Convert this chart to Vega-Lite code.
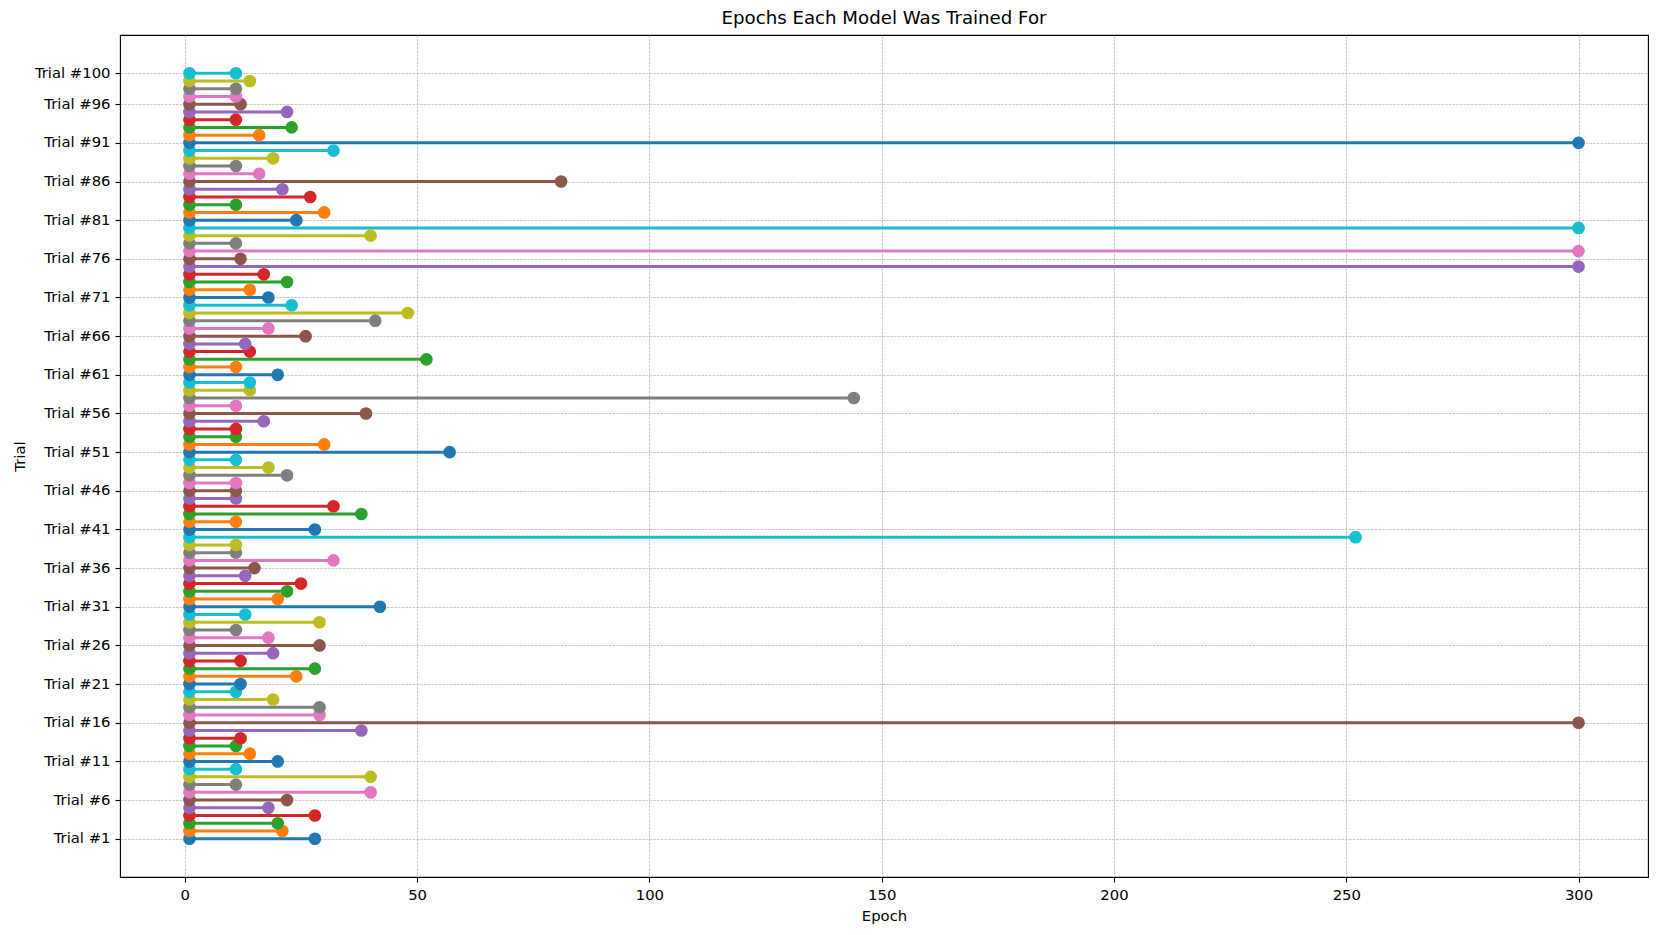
{
  "$schema": "https://vega.github.io/schema/vega-lite/v6.json",
  "autosize": {"type": "none"},
  "padding": {"left": 120, "top": 35, "right": 12, "bottom": 58},
  "width": 1528,
  "height": 842,
  "background": "white",
  "title": {"text": "Epochs Each Model Was Trained For", "font": "DejaVu Sans", "fontSize": 18.2, "fontWeight": "normal", "color": "black", "offset": 7, "anchor": "middle", "frame": "group"},
  "config": {
    "view": {"stroke": "black", "strokeWidth": 1.1},
    "axis": {
      "labelFont": "DejaVu Sans", "labelFontSize": 14.8, "labelColor": "black",
      "titleFont": "DejaVu Sans", "titleFontSize": 14.8, "titleFontWeight": "normal", "titleColor": "black",
      "tickColor": "black", "tickSize": 5, "tickWidth": 1.1, "labelPadding": 5,
      "domain": false, "grid": true, "gridColor": "#b0b0b0", "gridWidth": 0.7, "gridDash": [2.6, 1.1]
    }
  },
  "data": {"values": [
    {"trial": 1, "start": 1, "end": 28}, {"trial": 2, "start": 1, "end": 21}, {"trial": 3, "start": 1, "end": 20}, {"trial": 4, "start": 1, "end": 28}, {"trial": 5, "start": 1, "end": 18},
    {"trial": 6, "start": 1, "end": 22}, {"trial": 7, "start": 1, "end": 40}, {"trial": 8, "start": 1, "end": 11}, {"trial": 9, "start": 1, "end": 40}, {"trial": 10, "start": 1, "end": 11},
    {"trial": 11, "start": 1, "end": 20}, {"trial": 12, "start": 1, "end": 14}, {"trial": 13, "start": 1, "end": 11}, {"trial": 14, "start": 1, "end": 12}, {"trial": 15, "start": 1, "end": 38},
    {"trial": 16, "start": 1, "end": 300}, {"trial": 17, "start": 1, "end": 29}, {"trial": 18, "start": 1, "end": 29}, {"trial": 19, "start": 1, "end": 19}, {"trial": 20, "start": 1, "end": 11},
    {"trial": 21, "start": 1, "end": 12}, {"trial": 22, "start": 1, "end": 24}, {"trial": 23, "start": 1, "end": 28}, {"trial": 24, "start": 1, "end": 12}, {"trial": 25, "start": 1, "end": 19},
    {"trial": 26, "start": 1, "end": 29}, {"trial": 27, "start": 1, "end": 18}, {"trial": 28, "start": 1, "end": 11}, {"trial": 29, "start": 1, "end": 29}, {"trial": 30, "start": 1, "end": 13},
    {"trial": 31, "start": 1, "end": 42}, {"trial": 32, "start": 1, "end": 20}, {"trial": 33, "start": 1, "end": 22}, {"trial": 34, "start": 1, "end": 25}, {"trial": 35, "start": 1, "end": 13},
    {"trial": 36, "start": 1, "end": 15}, {"trial": 37, "start": 1, "end": 32}, {"trial": 38, "start": 1, "end": 11}, {"trial": 39, "start": 1, "end": 11}, {"trial": 40, "start": 1, "end": 252},
    {"trial": 41, "start": 1, "end": 28}, {"trial": 42, "start": 1, "end": 11}, {"trial": 43, "start": 1, "end": 38}, {"trial": 44, "start": 1, "end": 32}, {"trial": 45, "start": 1, "end": 11},
    {"trial": 46, "start": 1, "end": 11}, {"trial": 47, "start": 1, "end": 11}, {"trial": 48, "start": 1, "end": 22}, {"trial": 49, "start": 1, "end": 18}, {"trial": 50, "start": 1, "end": 11},
    {"trial": 51, "start": 1, "end": 57}, {"trial": 52, "start": 1, "end": 30}, {"trial": 53, "start": 1, "end": 11}, {"trial": 54, "start": 1, "end": 11}, {"trial": 55, "start": 1, "end": 17},
    {"trial": 56, "start": 1, "end": 39}, {"trial": 57, "start": 1, "end": 11}, {"trial": 58, "start": 1, "end": 144}, {"trial": 59, "start": 1, "end": 14}, {"trial": 60, "start": 1, "end": 14},
    {"trial": 61, "start": 1, "end": 20}, {"trial": 62, "start": 1, "end": 11}, {"trial": 63, "start": 1, "end": 52}, {"trial": 64, "start": 1, "end": 14}, {"trial": 65, "start": 1, "end": 13},
    {"trial": 66, "start": 1, "end": 26}, {"trial": 67, "start": 1, "end": 18}, {"trial": 68, "start": 1, "end": 41}, {"trial": 69, "start": 1, "end": 48}, {"trial": 70, "start": 1, "end": 23},
    {"trial": 71, "start": 1, "end": 18}, {"trial": 72, "start": 1, "end": 14}, {"trial": 73, "start": 1, "end": 22}, {"trial": 74, "start": 1, "end": 17}, {"trial": 75, "start": 1, "end": 300},
    {"trial": 76, "start": 1, "end": 12}, {"trial": 77, "start": 1, "end": 300}, {"trial": 78, "start": 1, "end": 11}, {"trial": 79, "start": 1, "end": 40}, {"trial": 80, "start": 1, "end": 300},
    {"trial": 81, "start": 1, "end": 24}, {"trial": 82, "start": 1, "end": 30}, {"trial": 83, "start": 1, "end": 11}, {"trial": 84, "start": 1, "end": 27}, {"trial": 85, "start": 1, "end": 21},
    {"trial": 86, "start": 1, "end": 81}, {"trial": 87, "start": 1, "end": 16}, {"trial": 88, "start": 1, "end": 11}, {"trial": 89, "start": 1, "end": 19}, {"trial": 90, "start": 1, "end": 32},
    {"trial": 91, "start": 1, "end": 300}, {"trial": 92, "start": 1, "end": 16}, {"trial": 93, "start": 1, "end": 23}, {"trial": 94, "start": 1, "end": 11}, {"trial": 95, "start": 1, "end": 22},
    {"trial": 96, "start": 1, "end": 12}, {"trial": 97, "start": 1, "end": 11}, {"trial": 98, "start": 1, "end": 11}, {"trial": 99, "start": 1, "end": 14}, {"trial": 100, "start": 1, "end": 11}
  ]},
  "encoding": {
    "y": {
      "field": "trial", "type": "quantitative", "title": "Trial",
      "scale": {"domain": [-3.95, 104.95], "nice": false, "zero": false},
      "axis": {"values": [1, 6, 11, 16, 21, 26, 31, 36, 41, 46, 51, 56, 61, 66, 71, 76, 81, 86, 91, 96, 100], "labelExpr": "'Trial #' + datum.value", "titlePadding": 7}
    },
    "color": {
      "field": "trial", "type": "nominal", "legend": null,
      "scale": {"range": ["#1f77b4", "#ff7f0e", "#2ca02c", "#d62728", "#9467bd", "#8c564b", "#e377c2", "#7f7f7f", "#bcbd22", "#17becf"]}
    }
  },
  "layer": [
    {
      "mark": {"type": "rule", "strokeWidth": 3},
      "encoding": {
        "x": {"field": "start", "type": "quantitative", "title": "Epoch",
          "scale": {"domain": [-13.95, 314.95], "nice": false, "zero": false},
          "axis": {"values": [0, 50, 100, 150, 200, 250, 300], "titlePadding": 7}},
        "x2": {"field": "end"}
      }
    },
    {
      "mark": {"type": "point", "filled": true, "opacity": 1, "size": 160, "shape": "circle"},
      "encoding": {"x": {"field": "start", "type": "quantitative"}}
    },
    {
      "mark": {"type": "point", "filled": true, "opacity": 1, "size": 160, "shape": "circle"},
      "encoding": {"x": {"field": "end", "type": "quantitative"}}
    }
  ]
}
